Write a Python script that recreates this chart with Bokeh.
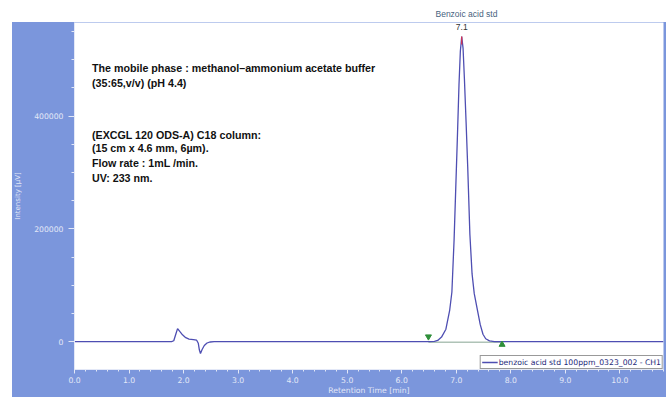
from bokeh.plotting import figure
from bokeh.models import (Range1d, SingleIntervalTicker, PrintfTickFormatter, Label, Title,
                          Legend, LegendItem)
from bokeh.embed import file_html
from bokeh.resources import INLINE

# ---------------- data ----------------
time_min = [0.0, 1.78, 1.82, 1.86, 1.89, 1.93, 1.98, 2.04, 2.10, 2.18, 2.24, 2.27, 2.29,
            2.31, 2.34, 2.38, 2.43, 2.49, 2.56,
            6.50, 6.60, 6.66, 6.73, 6.81, 6.88, 6.92, 6.96, 6.99, 7.02, 7.05, 7.075, 7.10,
            7.125, 7.15, 7.18, 7.21, 7.25, 7.29, 7.33, 7.39, 7.44, 7.49, 7.54, 7.61, 7.70,
            10.8]
intensity_uv = [0, 0, 1500, 14000, 23000, 18000, 12000, 7000, 4500, 3500, 2500, -3000, -15000,
                -21000, -14000, -7000, -2500, -700, 0,
                0, 300, 2000, 8000, 22000, 56000, 88000, 180000, 270000, 360000, 455000, 515000, 541000,
                520000, 465000, 390000, 310000, 190000, 120000, 85000, 55000, 30000, 13000, 5000, 1200, 0,
                0]

peak_name = "Benzoic acid std"
peak_rt = 7.1
peak_height = 541000
peak_rt_label = "7.1"

integration_x = [6.49, 7.84]
integration_y = [-1000, -1000]
marker_start_x = [6.49]
marker_start_y = [8800]
marker_end_x = [7.84]
marker_end_y = [-5300]

condition_lines = [
    "The mobile phase : methanol\u2013ammonium acetate buffer",
    "(35:65,v/v) (pH 4.4)",
    "(EXCGL 120 ODS-A) C18 column:",
    " (15 cm x 4.6 mm, 6\u00b5m).",
    "Flow rate  : 1mL /min.",
    "UV: 233 nm.",
]
condition_y = [484600, 458100, 366100, 342600, 316600, 290100]

legend_label = "benzoic acid std 100ppm_0323_002 - CH1"
x_title = "Retention Time [min]"
y_title = "Intensity [\u00b5V]"

# ---------------- styles ----------------
PANEL = "#7b96dc"
LIGHT = "#e3e8f7"
TRACE = "#4e4eb2"

p = figure(width=672, height=397,
           x_range=Range1d(0, 10.8), y_range=Range1d(-49500, 566000),
           output_backend="svg", toolbar_location=None,
           min_border_left=74, min_border_right=9, min_border_top=22, min_border_bottom=27)
p.border_fill_alpha = 0
p.background_fill_color = "white"
p.outline_line_color = None
p.styles = {"background": "linear-gradient(to right, #ffffff 12px, transparent 12px, "
                          "transparent 666px, #ffffff 666px), "
                          "linear-gradient(to bottom, #ffffff 22px, %s 22px)" % PANEL}
p.grid.visible = False

# x axis
xa = p.xaxis[0]
xa.ticker = SingleIntervalTicker(interval=1, num_minor_ticks=5)
xa.formatter = PrintfTickFormatter(format="%.1f")
xa.major_label_text_font = "DejaVu Sans"
xa.major_label_text_font_size = "7.7px"
xa.major_label_text_color = LIGHT
xa.major_label_standoff = 3
xa.major_tick_out = 4
xa.major_tick_in = 0
xa.minor_tick_out = 2
xa.minor_tick_in = 0
xa.major_tick_line_color = LIGHT
xa.minor_tick_line_color = LIGHT
xa.axis_line_color = LIGHT
xa.axis_label = x_title
xa.axis_label_text_font = "DejaVu Sans"
xa.axis_label_text_font_size = "7.7px"
xa.axis_label_text_font_style = "normal"
xa.axis_label_text_color = LIGHT
xa.axis_label_standoff = 0

# y axis
ya = p.yaxis[0]
ya.ticker = SingleIntervalTicker(interval=200000, num_minor_ticks=4)
ya.formatter = PrintfTickFormatter(format="%d")
ya.major_label_text_font = "DejaVu Sans"
ya.major_label_text_font_size = "7.7px"
ya.major_label_text_color = LIGHT
ya.major_label_standoff = 5
ya.major_tick_out = 6
ya.major_tick_in = 0
ya.minor_tick_out = 3
ya.minor_tick_in = 0
ya.major_tick_line_color = LIGHT
ya.minor_tick_line_color = LIGHT
ya.axis_line_color = LIGHT
ya.axis_label = y_title
ya.axis_label_text_font = "DejaVu Sans"
ya.axis_label_text_font_size = "7px"
ya.axis_label_text_font_style = "normal"
ya.axis_label_text_color = LIGHT
ya.axis_label_standoff = 9

# integration baseline and markers
p.line(integration_x, integration_y, line_color="#86a492", line_width=1)
trace = p.line(time_min, intensity_uv, line_color=TRACE, line_width=1.3)
p.scatter(marker_start_x, marker_start_y, marker="inverted_triangle", size=6,
          fill_color="#2f8f3a", line_color="#2f8f3a")
p.scatter(marker_end_x, marker_end_y, marker="triangle", size=6,
          fill_color="#2f8f3a", line_color="#2f8f3a")
p.segment(x0=[peak_rt], y0=[peak_height], x1=[peak_rt], y1=[peak_height - 14000],
          line_color="#e0304a", line_width=1.2)

# peak annotations
p.add_layout(Label(x=peak_rt, y=558900, text=peak_rt_label, text_align="center",
                   text_baseline="middle", text_font="Liberation Sans",
                   text_font_size="8.5px", text_color="#333333"))
p.add_layout(Title(text=peak_name, align="left", offset=361, standoff=6,
                   vertical_align="middle",
                   text_font="Liberation Sans", text_font_style="normal",
                   text_font_size="8.5px", text_color="#46627e"), "above")

# conditions text
for txt, yv in zip(condition_lines, condition_y):
    p.add_layout(Label(x=0.32, y=yv, text=txt, text_align="left", text_baseline="middle",
                       text_font="Liberation Sans", text_font_style="bold",
                       text_font_size="10.7px", text_color="#111111"))

legend = Legend(items=[LegendItem(label=legend_label, renderers=[trace])],
                location="bottom_right", margin=0, padding=1, spacing=0,
                label_text_font="DejaVu Sans", label_text_font_size="7.7px",
                label_text_color="#1f2a7a", label_height=10, label_standoff=1,
                glyph_width=16, glyph_height=8,
                border_line_color="#333333", border_line_width=1,
                background_fill_color="white", background_fill_alpha=1)
p.add_layout(legend)

open("out.html", "w").write(file_html(p, INLINE))
